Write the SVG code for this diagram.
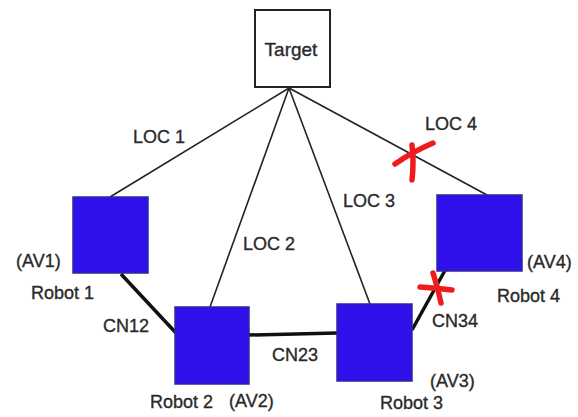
<svg xmlns="http://www.w3.org/2000/svg" width="578" height="417" viewBox="0 0 578 417">
  <style>
    .robot { fill: #3010ea; stroke: #2a2aa0; stroke-width: 1.5; }
    .target { fill: #ffffff; stroke: #222; stroke-width: 2; }
    .loc { stroke: #222; stroke-width: 1.6; fill: none; }
    .cn { stroke: #111; stroke-width: 3.5; fill: none; }
    .fail { stroke: #ee1c1c; stroke-width: 5.5; stroke-linecap: round; fill: none; }
    text { font-family: "Liberation Sans", Arial, sans-serif; font-size: 18px; fill: #2a2a2a; stroke: #2a2a2a; stroke-width: 0.35; }
  </style>
  <rect width="578" height="417" fill="#ffffff"/>

  <!-- connectors -->
  <g id="connectors">
    <line class="loc" x1="289" y1="88" x2="110" y2="197"/>
    <line class="loc" x1="289" y1="88" x2="210" y2="307"/>
    <line class="loc" x1="289" y1="88" x2="370" y2="304"/>
    <line class="loc" x1="289" y1="88" x2="487" y2="195"/>
    <line class="cn" x1="121" y1="274" x2="176" y2="333"/>
    <line class="cn" x1="249" y1="335" x2="337" y2="333"/>
    <line class="cn" x1="412" y1="330" x2="448" y2="265"/>
    <!-- broken links -->
    <path class="fail" d="M395 164 Q412 152 433 143"/>
    <path class="fail" d="M412 145 Q414 162 412 180"/>
    <path class="fail" d="M420 287 Q436 288 452 290"/>
    <path class="fail" d="M433 273 Q438 288 441 303"/>
    <text x="133" y="143">LOC 1</text>
    <text x="243" y="250">LOC 2</text>
    <text x="343" y="207">LOC 3</text>
    <text x="425" y="130">LOC 4</text>
    <text x="103" y="332">CN12</text>
    <text x="272" y="361">CN23</text>
    <text x="432" y="327">CN34</text>
  </g>

  <g id="target">
    <rect class="target" x="255" y="10" width="75" height="77"/>
    <text x="291" y="56" text-anchor="middle" style="font-size:19px">Target</text>
  </g>

  <g id="robot1">
    <rect class="robot" x="73" y="197" width="75" height="76"/>
    <text x="16" y="267">(AV1)</text>
    <text x="31" y="299">Robot 1</text>
  </g>

  <g id="robot2">
    <rect class="robot" x="175" y="307" width="74" height="77"/>
    <text x="150" y="408">Robot 2</text>
    <text x="229" y="407">(AV2)</text>
  </g>

  <g id="robot3">
    <rect class="robot" x="337" y="304" width="75" height="77"/>
    <text x="430" y="387">(AV3)</text>
    <text x="380" y="409">Robot 3</text>
  </g>

  <g id="robot4">
    <rect class="robot" x="437" y="195" width="85" height="76"/>
    <text x="527" y="268">(AV4)</text>
    <text x="497" y="302">Robot 4</text>
  </g>
</svg>
